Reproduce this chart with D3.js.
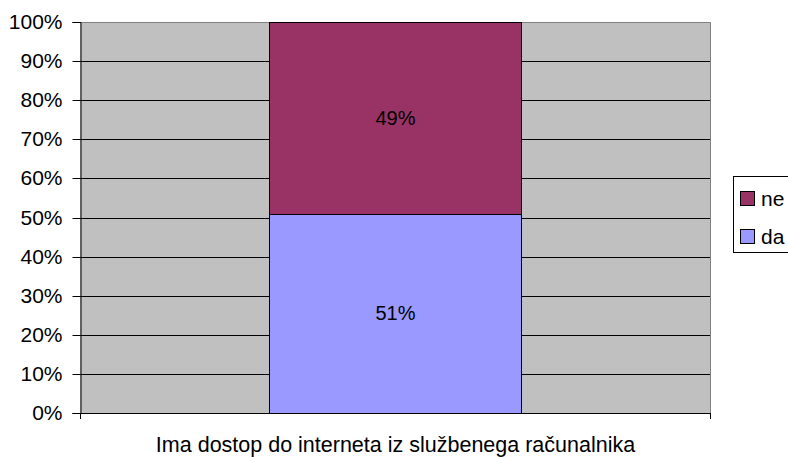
<!DOCTYPE html>
<html>
<head>
<meta charset="utf-8">
<script src="https://cdn.jsdelivr.net/npm/d3@7"></script>
<style>
  html, body { margin: 0; padding: 0; background: #fff; }
  svg { display: block; font-family: "Liberation Sans", Arial, sans-serif; }
</style>
</head>
<body>
<svg id="chart" width="788" height="457"></svg>
<script>
// Single stacked 100% column: share with / without internet access at work computer
const categories = ["Ima dostop do interneta iz službenega računalnika"];
const seriesNames = ["da", "ne"];          // stacking order, bottom to top
const seriesColors = ["#9999FF", "#993366"];
const valuesDa = [51];
const valuesNe = [49];
const tickValues = [0, 10, 20, 30, 40, 50, 60, 70, 80, 90, 100];

const svg = d3.select("#chart");
const margin = { left: 80, right: 77, top: 22, bottom: 44 };
const W = 788, H = 457;
const x0 = margin.left, x1 = W - margin.right, y0 = H - margin.bottom, y1 = margin.top;
const FS = 21;

const x = d3.scaleBand().domain(categories).range([x0, x1]).paddingInner(0).paddingOuter(0);
const y = d3.scaleLinear().domain([0, 100]).range([y0, y1]);

// plot background
svg.append("rect")
  .attr("x", x0).attr("y", y1).attr("width", x1 - x0).attr("height", y0 - y1)
  .attr("fill", "#C0C0C0");

// horizontal gridlines
svg.append("g").selectAll("line").data(tickValues.filter(v => v > 0 && v < 100)).join("line")
  .attr("x1", x0).attr("x2", x1)
  .attr("y1", d => Math.round(y(d)) + 0.5).attr("y2", d => Math.round(y(d)) + 0.5)
  .attr("stroke", "#000").attr("stroke-width", 1);

// plot border (top and right in grey)
svg.append("path")
  .attr("d", `M${x0},${y1 + 0.5}H${x1 - 0.5}V${y0}`)
  .attr("fill", "none").attr("stroke", "#808080").attr("stroke-width", 1);

// stacked data
const rows = categories.map((c, i) => ({ cat: c, da: valuesDa[i], ne: valuesNe[i] }));
const stack = d3.stack().keys(seriesNames)(rows);

const barW = x.bandwidth() * 0.4;
const g = svg.append("g");
stack.forEach((layer, li) => {
  g.selectAll(null).data(layer).join("rect")
    .attr("x", d => Math.round(x(d.data.cat) + (x.bandwidth() - barW) / 2) + 0.5)
    .attr("y", d => Math.round(y(d[1])) + 0.5)
    .attr("width", Math.round(barW))
    .attr("height", d => Math.round(y(d[0])) - Math.round(y(d[1])))
    .attr("fill", seriesColors[li])
    .attr("stroke", "#000").attr("stroke-width", 1);
  g.selectAll(null).data(layer).join("text")
    .attr("x", d => x(d.data.cat) + x.bandwidth() / 2)
    .attr("y", d => (y(d[0]) + y(d[1])) / 2)
    .attr("dy", "0.36em")
    .attr("text-anchor", "middle")
    .attr("font-size", 20)
    .attr("fill", "#000")
    .text(d => (d[1] - d[0]) + "%");
});

// y axis
const yAxis = d3.axisLeft(y).tickValues(tickValues).tickFormat(d => d + "%").tickSize(8).tickPadding(10);
const ya = svg.append("g").attr("transform", `translate(${x0 + 0.5},0)`).call(yAxis);
ya.select(".domain").attr("stroke", "#000");
ya.selectAll(".tick line").attr("stroke", "#000");
ya.selectAll(".tick").attr("transform", d => `translate(0,${Math.round(y(d)) + 0.5})`);
ya.selectAll("text").attr("font-size", FS).attr("fill", "#000").attr("font-family", "Liberation Sans, Arial, sans-serif");

// x axis with boundary ticks
const xa = svg.append("g");
xa.append("line").attr("x1", x0).attr("x2", x1).attr("y1", Math.round(y0) + 0.5).attr("y2", Math.round(y0) + 0.5).attr("stroke", "#000");
xa.selectAll(null).data([x0 + 0.5, x1 - 0.5]).join("line")
  .attr("x1", d => d).attr("x2", d => d)
  .attr("y1", y0).attr("y2", y0 + 6).attr("stroke", "#000");
xa.selectAll(null).data(categories).join("text")
  .attr("x", d => x(d) + x.bandwidth() / 2)
  .attr("y", 452)
  .attr("text-anchor", "middle")
  .attr("font-size", 21.5)
  .attr("fill", "#000")
  .text(d => d);

// legend (top series listed first)
const lg = svg.append("g");
lg.append("rect").attr("x", 733.5).attr("y", 176.5).attr("width", 60).attr("height", 76)
  .attr("fill", "#fff").attr("stroke", "#000").attr("stroke-width", 1);
const legendItems = seriesNames.map((n, i) => ({ name: n, color: seriesColors[i] })).reverse();
legendItems.forEach((it, i) => {
  const cy = 198.5 + i * 38;
  lg.append("rect").attr("x", 740.5).attr("y", cy - 7).attr("width", 14).attr("height", 14)
    .attr("fill", it.color).attr("stroke", "#000").attr("stroke-width", 1);
  lg.append("text").attr("x", 761).attr("y", cy).attr("dy", "0.36em")
    .attr("font-size", FS).attr("fill", "#000").text(it.name);
});
</script>
</body>
</html>
